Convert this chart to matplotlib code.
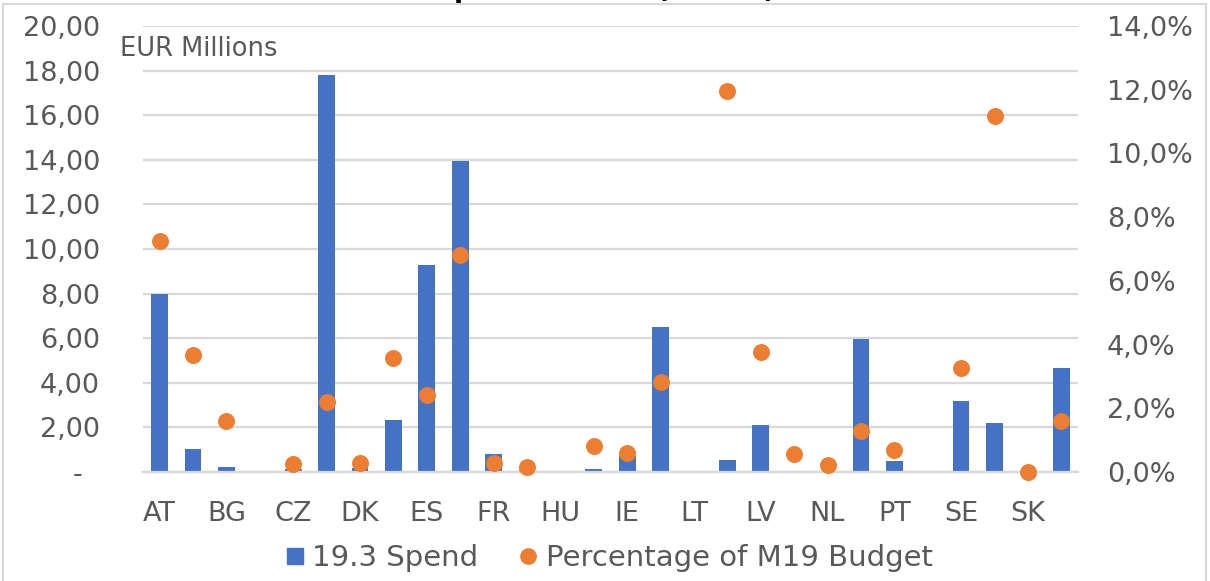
import numpy as np
import matplotlib.pyplot as plt
from matplotlib.lines import Line2D
from matplotlib.ticker import FuncFormatter

paises = ["AT", "BE", "BG", "CY", "CZ", "DE", "DK", "EE", "ES", "FI",
          "FR", "GR", "HU", "HR", "IE", "IT", "LT", "LU", "LV", "MT",
          "NL", "PL", "PT", "RO", "SE", "SI", "SK", "UK"]

# gasto 19.3 en millones de EUR
gasto = [8.00, 1.05, 0.24, 0.00, 0.13, 17.79, 0.18, 2.32, 9.28, 13.95,
         0.81, 0.10, 0.00, 0.15, 0.73, 6.51, 0.00, 0.55, 2.11, 0.00,
         0.00, 5.96, 0.49, 0.00, 3.18, 2.21, 0.00, 4.68]

# porcentaje del presupuesto M19 (nan = sin dato)
porcentaje = [7.24, 3.67, 1.60, np.nan, 0.25, 2.19, 0.28, 3.58, 2.43, 6.80,
              0.28, 0.16, np.nan, 0.82, 0.60, 2.82, np.nan, 11.96, 3.76, 0.55,
              0.21, 1.29, 0.70, np.nan, 3.25, 11.19, 0.00, 1.60]

AZUL = "#4472C4"
NARANJA = "#ED7D31"
GRIS = "#595959"
REJILLA = "#D9D9D9"

plt.rcParams["font.family"] = "DejaVu Sans"

fig = plt.figure(figsize=(12.10, 5.81), dpi=100)
ax = fig.add_axes([143 / 1210, 1 - 472 / 581, 935 / 1210, 446 / 581])
ax2 = ax.twinx()

x = np.arange(len(paises))
ax.bar(x, gasto, width=0.5, color=AZUL, zorder=3)
ax2.scatter(x, porcentaje, s=125, color=NARANJA, zorder=4, clip_on=False)

ax.set_xlim(-0.5, len(paises) - 0.5)
ax.set_ylim(0, 20)
ax.set_yticks(np.arange(0, 21, 2))
ax.yaxis.set_major_formatter(FuncFormatter(
    lambda v, p: "-  " if v == 0 else f"{v:.2f}".replace(".", ",")))
ax2.set_ylim(0, 14)
ax2.set_yticks(np.arange(0, 15, 2))
ax2.yaxis.set_major_formatter(FuncFormatter(
    lambda v, p: f"{v:.1f}%".replace(".", ",")))

ax.set_xticks(x)
ax.set_xticklabels([p if i % 2 == 0 else "" for i, p in enumerate(paises)])

ax.grid(axis="y", color=REJILLA, linewidth=1.6, zorder=0)
ax.set_axisbelow(True)
for a in (ax, ax2):
    for lado in ["top", "left", "right"]:
        a.spines[lado].set_visible(False)
    a.spines["bottom"].set_color(REJILLA)
    a.spines["bottom"].set_linewidth(1.6)
    a.tick_params(length=0, labelsize=19.5, labelcolor=GRIS)
ax.tick_params(axis="y", pad=31)
ax.tick_params(axis="x", pad=21)
ax2.tick_params(axis="y", pad=21)
ax2.patch.set_visible(False)

fig.text(120 / 1210, 1 - 49 / 581, "EUR Millions", fontsize=18.5, color=GRIS,
         va="center", ha="left")

# titulo (queda casi fuera del lienzo)
fig.text(0.5, 1.005, "Spend to Date (EUR M)", fontsize=19, fontweight="bold",
         color="black", ha="center", va="baseline")

# marco del grafico
borde = dict(color=REJILLA, linewidth=1.5, transform=fig.transFigure)
fig.add_artist(Line2D([3 / 1210, 1206 / 1210], [1 - 4 / 581, 1 - 4 / 581], **borde))
fig.add_artist(Line2D([3 / 1210, 3 / 1210], [0, 1 - 4 / 581], **borde))
fig.add_artist(Line2D([1206 / 1210, 1206 / 1210], [0, 1 - 4 / 581], **borde))

handles = [
    Line2D([], [], marker="s", linestyle="none", color=AZUL, markersize=11.5),
    Line2D([], [], marker="o", linestyle="none", color=NARANJA, markersize=11),
]
fig.legend(handles, ["19.3 Spend", "Percentage of M19 Budget"],
           loc="center", bbox_to_anchor=(608 / 1210, 1 - 558 / 581),
           ncol=2, frameon=False, fontsize=21, labelcolor=GRIS,
           handletextpad=0.2, columnspacing=1.3, handlelength=0.8)

fig.savefig("out.png", dpi=100)
